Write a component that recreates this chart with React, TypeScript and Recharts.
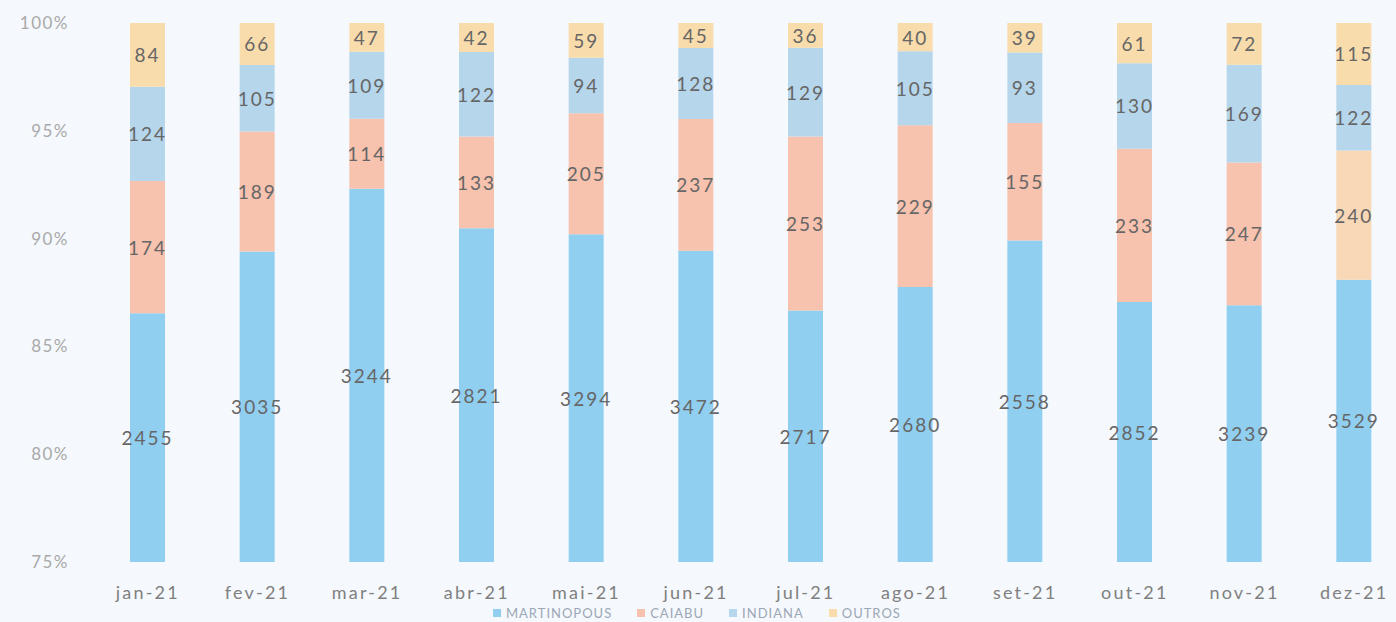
import { BarChart, Bar, XAxis, YAxis, LabelList, Cell } from 'recharts';

const months = ['jan-21', 'fev-21', 'mar-21', 'abr-21', 'mai-21', 'jun-21', 'jul-21', 'ago-21', 'set-21', 'out-21', 'nov-21', 'dez-21'];
const martinopous = [2455, 3035, 3244, 2821, 3294, 3472, 2717, 2680, 2558, 2852, 3239, 3529];
const caiabu = [174, 189, 114, 133, 205, 237, 253, 229, 155, 233, 247, 240];
const indiana = [124, 105, 109, 122, 94, 128, 129, 105, 93, 130, 169, 122];
const outros = [84, 66, 47, 42, 59, 45, 36, 40, 39, 61, 72, 115];
const yTicks = [75, 80, 85, 90, 95, 100];

const series = [
  { key: 'MARTINOPOUS', color: '#91cff1', values: martinopous },
  { key: 'CAIABU', color: '#f7c2ae', values: caiabu },
  { key: 'INDIANA', color: '#b6d6eb', values: indiana },
  { key: 'OUTROS', color: '#f9dcac', values: outros },
];

// 100% stacked: share of each series in the month total, raw count kept for the labels
const data = months.map((m, i) => {
  const total = martinopous[i] + caiabu[i] + indiana[i] + outros[i];
  const row: Record<string, any> = { name: m };
  series.forEach((s) => {
    row[s.key] = (s.values[i] / total) * 100;
    row[`raw_${s.key}`] = s.values[i];
  });
  return row;
});

const PLOT_TOP = 23;
const PLOT_BOTTOM = 562;

// label centred in the visible (unclipped) part of the segment
const SegmentLabel = (props: any) => {
  const { x, y, width, height, value } = props;
  const top = Math.max(y, PLOT_TOP);
  const bottom = Math.min(y + height, PLOT_BOTTOM);
  if (bottom <= top) return null;
  return (
    <text
      x={x + width / 2}
      y={(top + bottom) / 2}
      textAnchor="middle"
      dominantBaseline="central"
      fill="#666666"
      fontSize={19}
      letterSpacing={2}
      fontFamily="Lato, sans-serif"
    >
      {value}
    </text>
  );
};

export default function App() {
  return (
    <div
      style={{
        position: 'absolute',
        left: 0,
        top: 0,
        width: 1396,
        height: 622,
        overflow: 'hidden',
        background: '#f5f8fc',
        fontFamily: 'Lato, sans-serif',
      }}
    >
      <BarChart
        width={1420}
        height={622}
        data={data}
        barSize={35}
        margin={{ top: PLOT_TOP, right: 11, left: 0, bottom: 30 }}
      >
        <XAxis
          dataKey="name"
          axisLine={false}
          tickLine={false}
          tickMargin={18}
          height={30}
          tick={{ fill: '#808080', fontSize: 18, letterSpacing: 2.2 }}
        />
        <YAxis
          type="number"
          domain={[75, 100]}
          ticks={yTicks}
          allowDataOverflow
          width={93}
          axisLine={false}
          tickLine={false}
          tickMargin={18}
          tickFormatter={(v: number) => `${v}%`}
          tick={{ fill: '#a9a9a9', fontSize: 17, letterSpacing: 1.5 }}
        />
        {series.map((s) => (
          <Bar key={s.key} dataKey={s.key} stackId="a" fill={s.color} isAnimationActive={false}>
            {s.key === 'CAIABU' &&
              data.map((d) => (
                <Cell key={d.name} fill={d.name === 'dez-21' ? '#f8d8b6' : s.color} />
              ))}
            <LabelList dataKey={`raw_${s.key}`} content={SegmentLabel} />
          </Bar>
        ))}
      </BarChart>
      <div
        style={{
          position: 'absolute',
          left: 493,
          top: 605,
          display: 'flex',
          gap: 25,
          fontSize: 13,
          letterSpacing: 1,
          color: '#9ba7b6',
        }}
      >
        {series.map((s) => (
          <div key={s.key} style={{ display: 'flex', alignItems: 'center', gap: 5 }}>
            <span style={{ width: 8, height: 8, background: s.color, display: 'inline-block' }} />
            <span>{s.key}</span>
          </div>
        ))}
      </div>
    </div>
  );
}
